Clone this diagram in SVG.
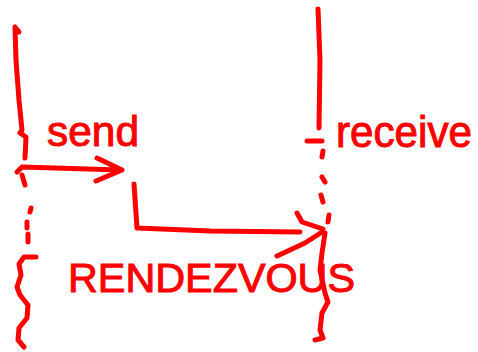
<svg xmlns="http://www.w3.org/2000/svg" width="478" height="352" viewBox="0 0 478 352">
  <style>
    .ink { fill: none; stroke: #ff0000; stroke-width: 5; stroke-linecap: round; stroke-linejoin: round; }
    .label { fill: #ff0000; stroke: #ff0000; stroke-width: 1; font-family: "Liberation Sans", Arial, sans-serif; }
  </style>
  <rect width="478" height="352" fill="#ffffff"/>

  <!-- Sender lifeline -->
  <g id="sender">
    <path class="ink" d="M19,32 L15,27 L16,60 L19,100 L22,130 L20,133 L26,137 L25,158"/>
    <path class="ink" d="M22,175 L25,185"/>
    <path class="ink" d="M31,208 L30,212 M27,222 L27,228 M28,234 L28,242"/>
    <path class="ink" d="M36,257 L24,257 L19,264 L21,275 L17,287 L20,295 L28,305 L27,318 L19,328 L18,340 L24,347"/>
    <text class="label" x="47" y="146" font-size="42" textLength="92" lengthAdjust="spacingAndGlyphs">send</text>
  </g>

  <!-- Receiver lifeline -->
  <g id="receiver">
    <path class="ink" d="M318,9 L320,60 L319,128"/>
    <path class="ink" d="M307,141 L322,141"/>
    <path class="ink" d="M323,151 L322,157 M322,177 L325,182 M321,195 L323,202 M329,215 L328,222"/>
    <path class="ink" d="M325,233 L322,253 L320,270 L325,293 L328,302 L322,313 L320,330 L323,338 L315,340"/>
    <text class="label" x="336" y="147" font-size="44" textLength="136" lengthAdjust="spacingAndGlyphs">receive</text>
  </g>

  <!-- Meeting point label -->
  <g id="rendezvous">
    <text class="label" x="68" y="292" font-size="40" textLength="287" lengthAdjust="spacingAndGlyphs">RENDEZVOUS</text>
  </g>

  <!-- Messages -->
  <g id="connectors">
    <path class="ink" d="M17,172 L22,167 L120,170"/>
    <path class="ink" d="M97,158 L122,170 L96,181"/>
    <path class="ink" d="M134,184 L137,228 L210,231 L300,232"/>
    <path class="ink" d="M297,213 L302,222 L323,229 M277,256 L305,243 L322,232"/>
  </g>
</svg>
